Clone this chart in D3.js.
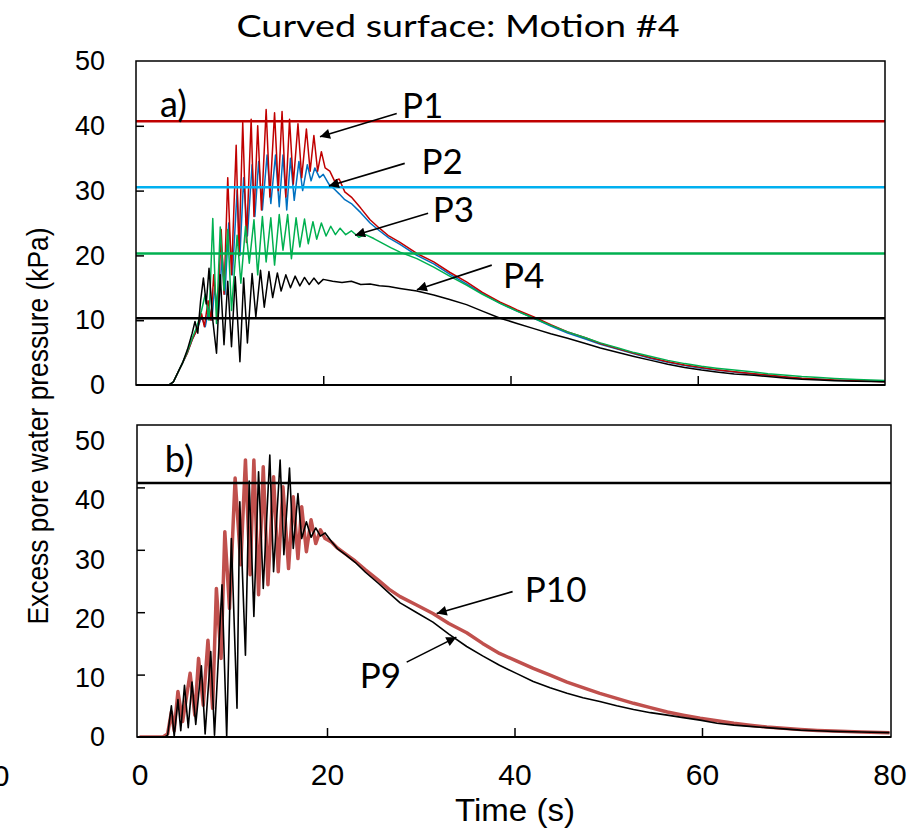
<!DOCTYPE html>
<html><head><meta charset="utf-8">
<script src="https://cdn.jsdelivr.net/npm/d3@7"></script>
<style>body{margin:0;background:#fff}svg{display:block}</style>
</head><body>
<svg id="chart" width="923" height="833"></svg>
<script>
// ---------- data ----------
const timeTicks = [0, 20, 40, 60, 80];
const pressureTicks = [0, 10, 20, 30, 40, 50];

// Reference levels (kPa)
const refLevelsA = [40.7, 30.5, 20.3, 10.3];
const refLevelsB = [40.7];

// P1
const p1Time = [0,3.5,4,4.5,5,5.5,6,6.5,7,7.3,7.7,8,8.3,8.7,9.1,9.4,9.8,10.2,10.7,11,11.4,11.8,12.3,12.6,13,13.4,13.9,14.3,14.8,15.2,15.6,16,16.4,16.8,17.3,17.7,18.2,18.6,19,19.4,19.8,20.2,20.7,21.2,21.7,22.3,23,24,25,26,27,28.2,30,31.8,33.5,35.3,37,38.9,40.7,42.5,44.3,46.1,48,49.6,51.5,53.2,55,56.8,58.6,60.4,62,63.9,66,67.5,69.5,71.1,73,74.6,77,80];
const p1Value = [0,0,0.5,2,3.5,5,7,8.5,11,9,13,10,17,10,24,14,32,17,37,20,40.5,22,41,26,40,27,42.5,29,42,30,42.2,29,41,31,40.3,32,39.5,33,38.5,33,36,33.5,33,31.5,31.8,29.8,29,27.3,25.5,24.2,23,22,20.3,19,17.4,15.9,14.3,12.8,11.6,10.5,9.3,8.2,7.3,6.4,5.6,4.9,4.2,3.6,3.1,2.7,2.35,2.06,1.75,1.54,1.25,1.03,0.9,0.77,0.65,0.5];
// P2
const p2Time = [0,3.5,4,4.5,5,5.5,6,6.5,7,7.4,7.8,8.1,8.4,8.8,9.2,9.5,9.9,10.3,10.8,11.1,11.5,11.9,12.4,12.7,13.1,13.5,14,14.4,14.9,15.3,15.7,16.1,16.5,16.9,17.4,17.8,18.3,18.7,19.1,19.6,20,20.6,21.2,21.7,22.3,23,24,25,26,27,28.2,30,31.8,33.5,35.3,37,38.9,40.7,42.5,44.3,46.1,48,49.6,51.5,53.2,55,56.8,58.6,60.4,62,63.9,66,67.5,69.5,71.1,73,74.6,77,80];
const p2Value = [0,0,0.5,2,3.5,5,7,8.5,10.5,9,12,10,15,11,20,14,25,17,30,20,32,23,34,26,34.5,27,35.5,28,35.5,27.5,35.5,27,35,28.5,34.5,30,34,31.5,33.5,32,32.5,31,30.2,29.5,28.6,28,26.6,25,23.8,22.7,21.7,20,18.7,17.1,15.6,14.1,12.6,11.4,10.3,9.1,8,7.1,6.3,5.5,4.8,4.1,3.5,3,2.6,2.3,2,1.7,1.5,1.2,1,0.9,0.75,0.65,0.55];
// P3
const p3Time = [0,3.5,4,4.5,5,5.5,6,6.5,7,7.4,7.8,8.2,8.6,9,9.4,9.8,10.2,10.8,11.2,11.7,12.1,12.6,13,13.5,13.9,14.4,14.8,15.3,15.7,16.2,16.6,17.1,17.5,18,18.4,18.9,19.3,19.8,20.3,20.8,21.3,21.8,22.4,23,23.8,24.5,25.4,26.3,27.2,28.2,30,31.8,33.5,35.3,37,38.9,40.7,42.5,44.3,46.1,48,49.6,51.5,53.2,55,56.8,58.6,60.4,62,63.9,66,67.5,69.5,71.1,73,74.6,77,80];
const p3Value = [0,0,0.5,2,3.5,5.2,7.2,9,11.5,14,10,25.7,9.5,24.4,14.6,24,11.5,23.1,15.7,24.5,18.8,25.5,17,26,19,25.8,18.5,26.3,20.8,26.3,19.5,25.8,21.3,25.6,21.8,25.2,22.5,25,23,24.5,23.2,24.2,23.2,23.8,22.8,23.2,22.6,21.9,21.2,20.5,19.5,18.2,16.8,15.4,14,12.6,11.4,10.3,9.2,8.2,7.3,6.5,5.7,5,4.4,3.8,3.3,2.9,2.6,2.3,2,1.75,1.5,1.3,1.15,1,0.85,0.7];
// P4
const p4Time = [0,3.5,4,4.5,5,5.5,6,6.3,6.6,6.9,7.2,7.5,7.8,8.2,8.6,9,9.4,9.8,10.2,10.6,11.1,11.5,11.9,12.4,12.8,13.3,13.7,14.2,14.6,15.1,15.5,16,16.5,17,17.5,18,18.5,19,19.5,20,21,22,23,24,25,26,27,28.2,30,31.8,33.5,35.3,37,38.9,40.7,42.5,44.3,46.1,48,49.6,51.5,53.2,55,56.8,58.6,60.4,62,63.9,66,67.5,69.5,71.1,73,74.6,77,80];
const p4Value = [0,0,0.5,2,3.5,5.5,8,9.8,8,13,16.5,12.5,18,10,4.9,17,6.2,16,5.9,16.7,3.6,16.5,6.5,17.2,10.5,17.7,12,17.5,13.5,17.3,14.5,17,15,16.8,15.3,16.6,15.5,16.5,15.6,16.3,16,15.8,16,15.5,15.6,15.3,15.2,14.9,14.5,13.9,13.2,12.4,11.4,10.3,9.5,8.7,7.9,7.2,6.4,5.7,5,4.4,3.8,3.2,2.7,2.3,2,1.7,1.5,1.3,1.05,0.88,0.78,0.67,0.58,0.5];
// P10
const p10Time = [0,2.5,3,3.4,3.7,4.1,4.6,5.4,5.9,6.3,6.8,7.3,7.8,8.2,8.7,9.1,9.6,10.2,10.8,11.3,11.8,12.2,12.7,13.2,13.7,14.3,14.8,15.3,15.9,16.4,16.9,17.3,17.8,18.3,18.8,19.3,19.8,20.5,21.1,22,23,24.1,25.5,26.6,27.8,29.5,31.3,33,34.9,36.6,38.4,40.2,42,43.8,45.6,47.3,49.1,50.9,52.7,54.5,56.3,58,59.8,61.6,63.4,65.1,66.9,68.7,70.5,72.3,74,77,80];
const p10Value = [0,0,0.5,4,1,7.3,2.5,10.2,3.5,12.6,5.1,15.5,4.6,23.8,12.6,32.9,20.6,41.5,27.6,44.4,26,44.4,22.8,43.3,24.4,41.7,26.5,40.1,27,38.5,28.6,36.9,29.7,34.8,31,33.2,31.8,31.2,30.3,29.3,28.2,26.8,25.1,23.7,22.5,21.2,19.8,18.2,16.7,15,13.4,12.2,11,9.9,8.8,7.9,7,6.2,5.4,4.7,4,3.5,3,2.6,2.2,1.9,1.6,1.4,1.2,1.05,0.95,0.8,0.7];
// P9
const p9Time = [0,2.7,3,3.4,3.7,4.1,4.4,4.8,5.2,5.6,6,6.6,7,7.6,8,8.8,9.3,9.8,10.4,10.7,11.3,11.7,12.2,12.7,13.2,13.9,14.3,15,15.4,16,16.4,16.9,17.3,17.8,18.3,18.8,19.3,19.8,20.5,21.1,22,23,24.1,25.5,26.6,27.8,29.5,31.3,33,34.9,36.6,38.4,40.2,42,43.8,45.6,47.3,49.1,50.9,52.7,54.5,56.3,58,59.8,61.6,63.4,65.1,66.9,68.7,70.5,72.3,74,77,80];
const p9Value = [0,0,0.3,5,0.1,6,1,8.3,1.5,8.8,2,11.4,0.5,13.7,0.3,24.4,0,31.8,4.6,37.7,13.1,41,19.3,42.5,23.8,45.2,26.5,44.4,29.2,43.1,30.2,39,31.8,34.5,32,33.5,32.2,32.7,31.3,30.2,29.2,28,26.4,24.6,23.1,21.5,20,18.4,16.5,14.5,13,11.5,10.2,8.9,7.9,7,6.3,5.7,5,4.4,3.9,3.5,3.1,2.7,2.2,1.9,1.7,1.5,1.3,1.1,1,0.9,0.8,0.7];

// ---------- drawing ----------
const svg = d3.select("#chart");
const arial = "'Liberation Sans', Arial, sans-serif";
const cal = "Lato, 'Open Sans', sans-serif";

const xA = d3.scaleLinear().domain([0, 80]).range([136, 885]);
const yA = d3.scaleLinear().domain([0, 50]).range([385, 61]);
const xB = d3.scaleLinear().domain([0, 80]).range([139.5, 889.5]);
const yB = d3.scaleLinear().domain([0, 50]).range([737, 425]);
const yBLabels = d3.scaleLinear().domain([0, 50]).range([737, 441]);

const zipSeries = (t, v) => d3.range(Math.min(t.length, v.length)).map(i => [t[i], v[i]]);

const defs = svg.append("defs");
defs.append("clipPath").attr("id", "clipA").append("rect")
  .attr("x", xA(0)).attr("y", yA(50)).attr("width", xA(80) - xA(0)).attr("height", yA(0) - yA(50));
defs.append("clipPath").attr("id", "clipB").append("rect")
  .attr("x", 137).attr("y", yB(50)).attr("width", 891 - 137).attr("height", yB(0) - yB(50));
defs.append("marker").attr("id", "arrow").attr("viewBox", "0 0 10 10")
  .attr("refX", 10).attr("refY", 5).attr("markerWidth", 14).attr("markerHeight", 10)
  .attr("markerUnits", "userSpaceOnUse").attr("orient", "auto")
  .append("path").attr("d", "M0,0 L10,5 L0,10 z").attr("fill", "#000");

// Title
svg.append("text").attr("x", 458).attr("y", 37).attr("text-anchor", "middle")
  .attr("font-family", cal).attr("font-size", 31).attr("textLength", 443).attr("lengthAdjust", "spacingAndGlyphs")
  .text("Curved surface: Motion #4");

function panel(x, y, frame, clipId, series, refs, refColors, refWidth) {
  const g = svg.append("g");
  const plot = g.append("g").attr("clip-path", `url(#${clipId})`);
  const line = d3.line().x(d => x(d[0])).y(d => y(d[1]));
  series.forEach(s => {
    plot.append("path").datum(zipSeries(s.t, s.v)).attr("d", line)
      .attr("fill", "none").attr("stroke", s.color).attr("stroke-width", s.w)
      .attr("stroke-linejoin", "round");
  });
  refs.forEach((r, i) => {
    plot.append("line").attr("x1", frame[0]).attr("x2", frame[1]).attr("y1", y(r)).attr("y2", y(r))
      .attr("stroke", refColors[i]).attr("stroke-width", refWidth);
  });
  const ty = d3.axisLeft(y).tickValues([10, 20, 30, 40]).tickSize(-8).tickFormat("");
  g.append("g").attr("transform", `translate(${frame[0]},0)`).call(ty)
    .call(a => a.select(".domain").remove())
    .selectAll("line").attr("stroke", "#000").attr("stroke-width", 1.5);
  const tx = d3.axisBottom(x).tickValues([20, 40, 60]).tickSize(-9).tickFormat("");
  g.append("g").attr("transform", `translate(0,${y(0)})`).call(tx)
    .call(a => a.select(".domain").remove())
    .selectAll("line").attr("stroke", "#000").attr("stroke-width", 1.5);
  g.append("rect").attr("x", frame[0]).attr("y", y(50)).attr("width", frame[1] - frame[0]).attr("height", y(0) - y(50))
    .attr("fill", "none").attr("stroke", "#000").attr("stroke-width", 1.5);
  g.append("line").attr("x1", frame[0]).attr("x2", frame[1]).attr("y1", y(0)).attr("y2", y(0))
    .attr("stroke", "#000").attr("stroke-width", 2.2);
  return g;
}

panel(xA, yA, [136, 885], "clipA", [
  {t: p2Time, v: p2Value, color: "#0070c0", w: 1.5},
  {t: p1Time, v: p1Value, color: "#c00000", w: 1.5},
  {t: p3Time, v: p3Value, color: "#00b050", w: 1.5},
  {t: p4Time, v: p4Value, color: "#000000", w: 1.5}
], refLevelsA, ["#c00000", "#00b0f0", "#00b050", "#000000"], 2.5);

panel(xB, yB, [137, 891], "clipB", [
  {t: p10Time, v: p10Value, color: "#c0504d", w: 3.5},
  {t: p9Time, v: p9Value, color: "#000000", w: 1.6}
], refLevelsB, ["#000000"], 2.5);

function yLabels(scale) {
  const ax = d3.axisLeft(scale).tickValues(pressureTicks).tickSize(0).tickPadding(0);
  svg.append("g").attr("transform", "translate(105,0)").call(ax)
    .call(a => a.select(".domain").remove())
    .selectAll("text").attr("font-family", arial).attr("font-size", 27).attr("fill", "#000");
}
yLabels(yA);
yLabels(yBLabels);

const axX = d3.axisBottom(xB).tickValues(timeTicks).tickSize(0).tickPadding(0);
svg.append("g").attr("transform", "translate(0,764)").call(axX)
  .call(a => a.select(".domain").remove())
  .selectAll("text").attr("font-family", arial).attr("font-size", 30).attr("fill", "#000");

// cut-off label at far left edge (as in the reference)
svg.append("text").attr("x", 1).attr("y", 786).attr("text-anchor", "middle")
  .attr("font-family", arial).attr("font-size", 30).text("0");

svg.append("text").attr("x", 515).attr("y", 821).attr("text-anchor", "middle")
  .attr("font-family", arial).attr("font-size", 31).attr("textLength", 120).attr("lengthAdjust", "spacingAndGlyphs")
  .text("Time (s)");
svg.append("text").attr("transform", "translate(48,426) rotate(-90)").attr("text-anchor", "middle")
  .attr("font-family", arial).attr("font-size", 29).attr("textLength", 397).attr("lengthAdjust", "spacingAndGlyphs")
  .text("Excess pore water pressure (kPa)");

svg.append("text").attr("x", xA(2.56)).attr("y", yA(41.4)).attr("font-family", cal).attr("font-size", 36).text("a)");
svg.append("text").attr("x", xB(2.7)).attr("y", yB(42.5)).attr("font-family", cal).attr("font-size", 36).text("b)");

const annA = [
  {label: "P1", at: [28.4, 41.2], from: [27.85, 41.9], to: [19.65, 38.3]},
  {label: "P2", at: [30.5, 32.6], from: [28.7, 34.2], to: [20.6, 30.7]},
  {label: "P3", at: [31.7, 25.2], from: [31.2, 26.5], to: [23.4, 23.1]},
  {label: "P4", at: [39.2, 15.0], from: [38.0, 18.5], to: [30.0, 14.7]}
];
const annB = [
  {label: "P10", at: [41.1, 21.7], from: [39.8, 23.3], to: [31.7, 19.8]},
  {label: "P9", at: [23.5, 7.85], from: [28.5, 12.0], to: [33.8, 16.0]}
];
function annotate(list, x, y) {
  list.forEach(a => {
    svg.append("line").attr("x1", x(a.from[0])).attr("y1", y(a.from[1]))
      .attr("x2", x(a.to[0])).attr("y2", y(a.to[1]))
      .attr("stroke", "#000").attr("stroke-width", 1.6).attr("marker-end", "url(#arrow)");
    svg.append("text").attr("x", x(a.at[0])).attr("y", y(a.at[1]))
      .attr("font-family", cal).attr("font-size", 35).text(a.label);
  });
}
annotate(annA, xA, yA);
annotate(annB, xB, yB);
</script>
</body></html>
